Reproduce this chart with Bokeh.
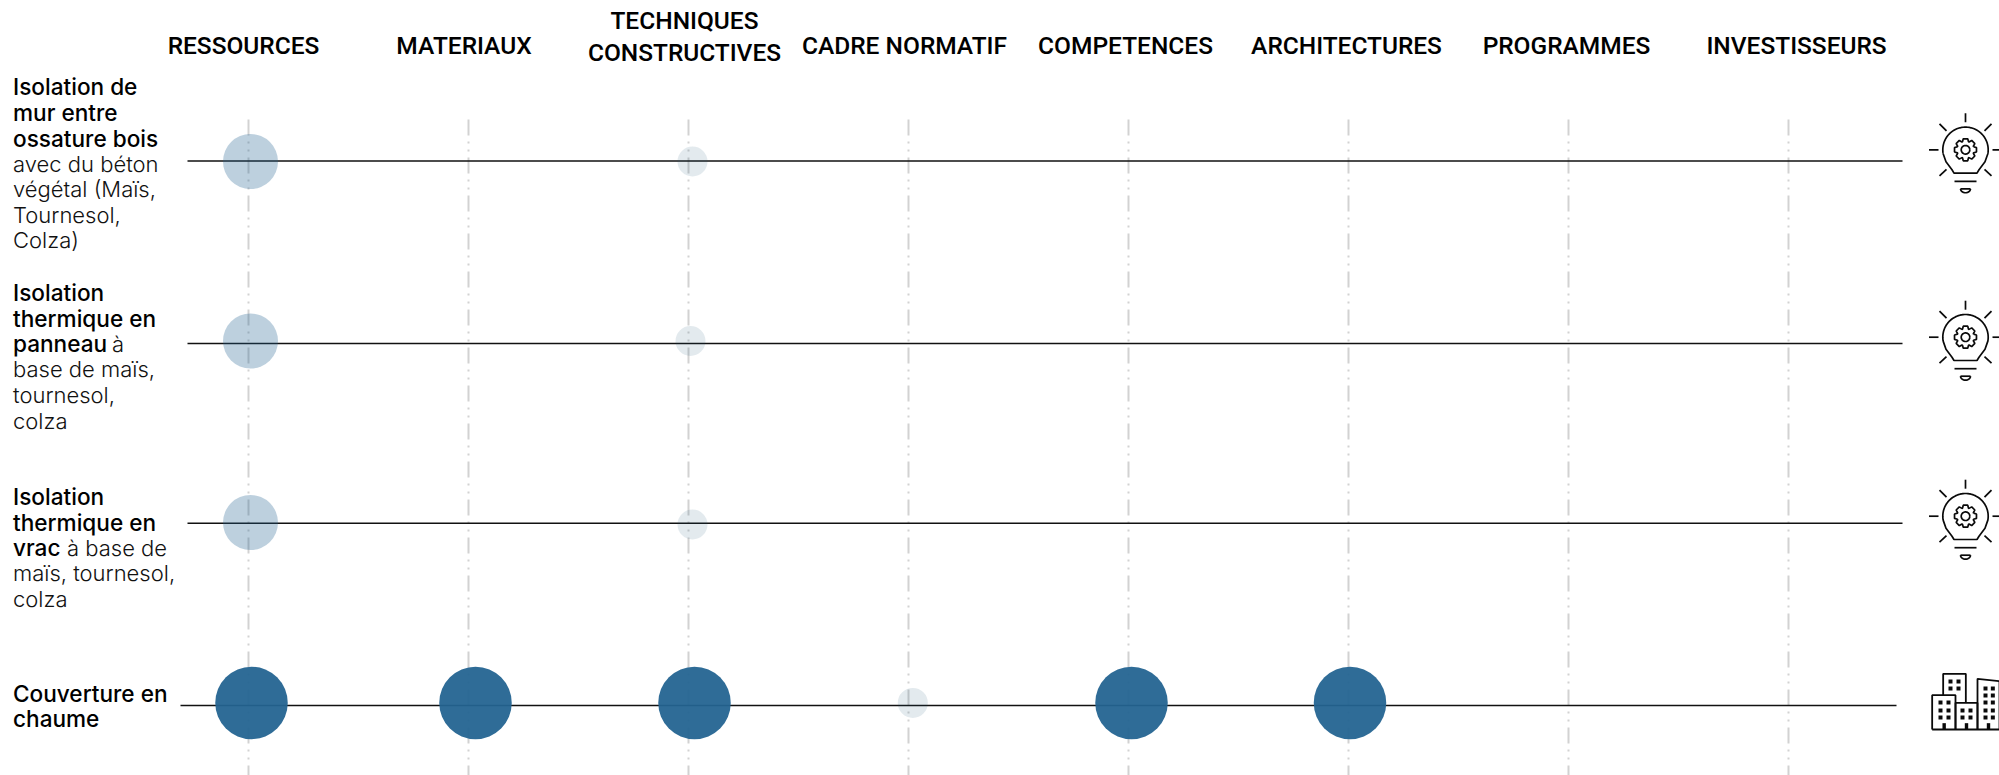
import numpy as np
from bokeh.plotting import figure
from bokeh.models import Range1d
from bokeh.core.properties import value
from bokeh.embed import file_html
from bokeh.resources import INLINE

# ---- data ----
columns = [["RESSOURCES"], ["MATERIAUX"], ["TECHNIQUES", "CONSTRUCTIVES"], ["CADRE NORMATIF"],
           ["COMPETENCES"], ["ARCHITECTURES"], ["PROGRAMMES"], ["INVESTISSEURS"]]
row_1 = [2, 0, 1, 0, 0, 0, 0, 0]
row_2 = [2, 0, 1, 0, 0, 0, 0, 0]
row_3 = [2, 0, 1, 0, 0, 0, 0, 0]
row_4 = [3, 3, 3, 1, 3, 3, 0, 0]
rows = [row_1, row_2, row_3, row_4]
row_icons = ["bulb", "bulb", "bulb", "city"]
# each label line: list of (text, emphasised, x offset)
label_1 = [[("Isolation de", 1, 0)], [("mur entre", 1, 0)], [("ossature bois", 1, 0)], [("avec du béton", 0, 0)],
           [("végétal (Maïs,", 0, 0)], [("Tournesol,", 0, 0)], [("Colza)", 0, 0)]]
label_2 = [[("Isolation", 1, 0)], [("thermique en", 1, 0)], [("panneau", 1, 0), ("à", 0, 99)],
           [("base de maïs,", 0, 0)], [("tournesol,", 0, 0)], [("colza", 0, 0)]]
label_3 = [[("Isolation", 1, 0)], [("thermique en", 1, 0)], [("vrac", 1, 0), ("à base de", 0, 54)],
           [("maïs, tournesol,", 0, 0)], [("colza", 0, 0)]]
label_4 = [[("Couverture en", 1, 0)], [("chaume", 1, 0)]]
labels = [label_1, label_2, label_3, label_4]

# ---- layout (reference pixels) ----
W, H = 1999, 775
M = 0
COL0, COLSTEP = 248.0, 220.0
ROW0, ROWSTEP = 160.5, 181.5
X = lambda px: (np.asarray(px, dtype=float) - COL0) / COLSTEP
Y = lambda py: (np.asarray(py, dtype=float) - ROW0) / ROWSTEP

header_cx = [243, 463.5, 684, 904, 1125, 1346, 1566, 1796]
row_line_y = [160.5, 343, 522.7, 705]
row_line_x = [(187, 1902), (187, 1902), (187, 1902), (180, 1896)]
label_first_base = [94.3, 300, 504, 700.7]
LEAD = 25.6
HEAD_SHIFT, LABEL_SHIFT = -9, -8
mark_dx = {(0, 0): 2, (1, 0): 2, (2, 0): 2, (3, 0): 3, (3, 1): 7, (3, 2): 6, (3, 3): 4.3, (3, 4): 3, (3, 5): 1.5,
           (0, 2): 4, (1, 2): 2, (2, 2): 4}
mark_y = {0: {2: 161, 1: 161}, 1: {2: 340.5, 1: 340.5}, 2: {2: 522, 1: 524}, 3: {3: 702.4, 1: 702.4}}
level_size = {1: 30, 2: 55, 3: 72.5}
level_alpha = {1: 0.13, 2: 0.3, 3: 0.95}
level_color = {1: "#285D7C", 2: "#246491", 3: "#246491"}
icon_pos = [(1965, 149.3), (1965, 336.7), (1965, 515.7)]
HEAD_FONT = "Roboto Medium"
EM_FONT = "Inter Medium"
REG_FONT = "Inter Light"
INK = "#0a0a0a"

p = figure(width=W, height=H, output_backend="svg", toolbar_location=None,
           x_range=Range1d(float(X(M)), float(X(M + W))), y_range=Range1d(float(Y(M + H)), float(Y(M))),
           min_border=0, outline_line_color=None, x_axis_type=None, y_axis_type=None)
p.grid.visible = False
p.background_fill_color = "white"
p.border_fill_color = "white"

# vertical dash-dot guides
for i in range(len(columns)):
    p.line([i, i], [float(Y(119)), float(Y(775))], line_color="#d2d2d2", line_width=2, line_dash="16 6 2 6 2 6")

# row lines
for r in range(len(rows)):
    p.line(X(list(row_line_x[r])).tolist(), [float(Y(row_line_y[r]))] * 2, line_color="#111111", line_width=1.6)

# bubbles
xs, ys, sz, al, cl = [], [], [], [], []
for r, vals in enumerate(rows):
    for c, v in enumerate(vals):
        if v:
            xs.append(c + mark_dx.get((r, c), 0) / COLSTEP)
            ys.append(float(Y(mark_y[r][v])))
            sz.append(level_size[v])
            al.append(level_alpha[v])
            cl.append(level_color[v])
p.scatter(xs, ys, size=sz, marker="circle", fill_color=cl, fill_alpha=al, line_color=None)

# headers
for i, lines in enumerate(columns):
    bases = [53.5] if len(lines) == 1 else [29, 61]
    for t, b in zip(lines, bases):
        p.text([float(X(header_cx[i]))], [float(Y(b + HEAD_SHIFT))], text=[t], text_font=value(HEAD_FONT),
               text_font_size="24.5px", text_align="center", text_baseline="alphabetic", text_color="#000000")

# row labels
for r, lab in enumerate(labels):
    for l, parts in enumerate(lab):
        for (t, em, dx) in parts:
            p.text([float(X(12.5 + dx))], [float(Y(label_first_base[r] + l * LEAD + LABEL_SHIFT))], text=[t],
                   text_font=value(EM_FONT if em else REG_FONT), text_font_size="22.6px" if em else "22px",
                   text_align="left", text_baseline="alphabetic", text_color="#000000" if em else "#111111")

# icons
def stroke(pts, width=1.7):
    a = np.asarray(pts, dtype=float)
    p.line(X(a[:, 0]).tolist(), Y(a[:, 1]).tolist(), line_color=INK, line_width=width)

def bulb(cx, cy):
    for a, b in [((0, -36.5), (0, -27.5)), ((-36.5, 0), (-27, 0)), ((27, 0), (36.5, 0)),
                 ((-26, -26), (-19, -19)), ((26, -26), (19, -19)), ((-26, 26), (-19, 19.5)), ((26, 26), (19, 19.5)),
                 ((-11, 31.5), (11, 31.5))]:
        stroke([(cx + a[0], cy + a[1]), (cx + b[0], cy + b[1])])
    arc = [(cx + 22.7 * np.cos(t), cy - 22.7 * np.sin(t)) for t in np.radians(np.linspace(190, -10, 50))]
    stroke(arc + [(cx + 19.5, cy + 12), (cx + 13.5, cy + 20), (cx + 11.5, cy + 23.3), (cx - 11.5, cy + 23.3),
                  (cx - 13.5, cy + 20), (cx - 19.5, cy + 12), arc[0]])
    gear = []
    for k in range(8):
        base = k * np.pi / 4
        for da, rad in [(-0.36, 8.6), (-0.2, 11.2), (0.2, 11.2), (0.36, 8.6)]:
            gear.append((cx + rad * np.cos(base + da), cy + rad * np.sin(base + da)))
    stroke(gear + [gear[0]], 1.7)
    t = np.linspace(0, 2 * np.pi, 30)
    stroke(np.c_[cx + 4.3 * np.cos(t), cy + 4.3 * np.sin(t)], 1.7)
    t = np.linspace(0, np.pi, 12)
    stroke([(cx + 5 * np.cos(a), cy + 39 + 4 * np.sin(a)) for a in t], 1.7)
    stroke([(cx - 5, cy + 39), (cx + 5, cy + 39)], 1.7)

def city():
    zx = lambda v: 1850 + v / 3
    zy = lambda v: 640 + v / 3
    for box in [[(245, 267), (245, 164), (315, 164), (315, 267)],
                [(315, 267), (315, 187), (381, 187), (381, 267)],
                [(278, 164), (278, 100), (346, 100), (346, 187)],
                [(381, 267), (381, 115), (447, 122), (447, 267)],
                [(245, 267), (447, 267)]]:
        stroke([(zx(a), zy(b)) for a, b in box], 1.8)
    win_x, win_y = [], []
    for xs_, ys_ in [((300, 324), (123, 144)), ((270, 294), (186, 210, 231)), ((336, 360), (210, 231)),
                     ((405, 427), (144, 165, 186, 210, 231))]:
        for a in xs_:
            for b in ys_:
                win_x.append(zx(a)); win_y.append(zy(b))
    win_x, win_y = np.array(win_x), np.array(win_y)
    p.quad(left=X(win_x - 2), right=X(win_x + 2), top=Y(win_y - 2), bottom=Y(win_y + 2), fill_color=INK, line_color=None)
    dx = np.array([zx(281), zx(348), zx(414)])
    p.quad(left=X(dx - 1.7), right=X(dx + 1.7), top=Y([zy(248)] * 3), bottom=Y([zy(267)] * 3), fill_color=INK, line_color=None)

for (cx, cy), kind in zip(icon_pos, row_icons):
    if kind == "bulb":
        bulb(cx, cy)
city()

open("out.html", "w").write(file_html(p, INLINE))
